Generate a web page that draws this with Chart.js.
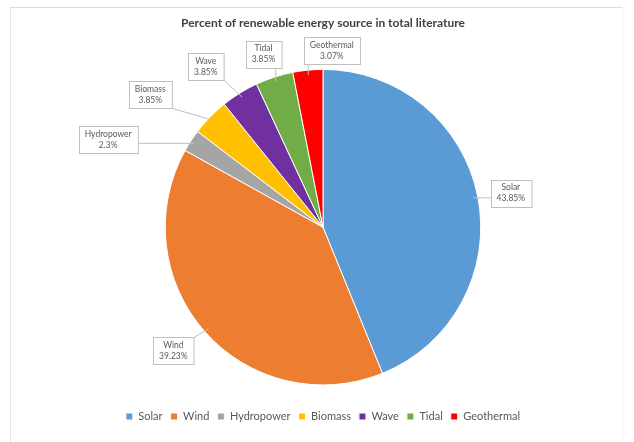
<!DOCTYPE html>
<html>
<head>
<meta charset="utf-8">
<script src="https://cdn.jsdelivr.net/npm/chart.js@4.4.0/dist/chart.umd.min.js"></script>
<style>
  html, body { margin: 0; padding: 0; background: #fff; }
  #wrap { position: relative; width: 634px; height: 442px; overflow: hidden; }
  #frame { position: absolute; left: 10px; top: 7px; width: 611px; height: 440px;
           border-top: 1px solid #dcdcdc; border-left: 1px solid #e4e4e4; border-right: 1px solid #f2f2f2; }
  #chart { position: absolute; left: 0; top: 0; }
</style>
</head>
<body>
<div id="wrap">
  <div id="frame"></div>
  <canvas id="chart" width="634" height="442"></canvas>
</div>
<script>
const sources = ['Solar', 'Wind', 'Hydropower', 'Biomass', 'Wave', 'Tidal', 'Geothermal'];
const percents = [43.85, 39.23, 2.3, 3.85, 3.85, 3.85, 3.07];
const percentLabels = ['43.85%', '39.23%', '2.3%', '3.85%', '3.85%', '3.85%', '3.07%'];
const sliceColors = ['#5B9BD5', '#ED7D31', '#A5A5A5', '#FFC000', '#7030A0', '#70AD47', '#FF0000'];

// where each callout box sits: distance as a factor of the radius, and angle shift in degrees
const calloutDist = [1.21, 1.23, 1.47, 1.38, 1.26, 1.16, 1.12];
const calloutShift = [0.8, 2, -11.1, -6.8, -4.3, -1, 8.4];

const fontName = 'Lato, "Open Sans", sans-serif';

const calloutPlugin = {
    id: 'callouts',
    afterDatasetsDraw(chart) {
        const ctx = chart.ctx;
        const meta = chart.getDatasetMeta(0);
        ctx.save();
        ctx.font = '8.5px ' + fontName;
        meta.data.forEach((arc, i) => {
            const p = arc.getProps(['x', 'y', 'startAngle', 'endAngle', 'outerRadius'], true);
            const mid = (p.startAngle + p.endAngle) / 2;
            const ang = mid + calloutShift[i] * Math.PI / 180;
            const cx = p.x + Math.cos(ang) * p.outerRadius * calloutDist[i];
            const cy = p.y + Math.sin(ang) * p.outerRadius * calloutDist[i];
            const lines = [sources[i], percentLabels[i]];
            const w = Math.max(...lines.map(t => ctx.measureText(t).width)) + 12;
            const h = 27;
            const x0 = Math.round(cx - w / 2) + 0.5, y0 = Math.round(cy - h / 2) + 0.5;
            // leader line
            const ax = p.x + Math.cos(mid) * p.outerRadius * 0.97;
            const ay = p.y + Math.sin(mid) * p.outerRadius * 0.97;
            const lx = Math.min(Math.max(ax, x0), x0 + w);
            const ly = Math.min(Math.max(ay, y0), y0 + h);
            ctx.strokeStyle = '#bfbfbf';
            ctx.lineWidth = 1;
            ctx.beginPath();
            ctx.moveTo(lx, ly);
            ctx.lineTo(ax, ay);
            ctx.stroke();
            ctx.fillStyle = '#ffffff';
            ctx.fillRect(x0, y0, w, h);
            ctx.strokeRect(x0, y0, w, h);
            ctx.fillStyle = '#595959';
            ctx.textAlign = 'center';
            ctx.textBaseline = 'middle';
            ctx.fillText(lines[0], cx, cy - 5.5);
            ctx.fillText(lines[1], cx, cy + 5.5);
        });
        ctx.restore();
    }
};

new Chart(document.getElementById('chart'), {
    type: 'pie',
    data: {
        labels: sources,
        datasets: [{
            data: percents,
            backgroundColor: sliceColors,
            borderColor: '#ffffff',
            borderWidth: 1,
            radius: '90%'
        }]
    },
    options: {
        responsive: false,
        animation: false,
        layout: { padding: { left: 12, right: 0, top: 0, bottom: 10 } },
        plugins: {
            title: {
                display: true,
                text: 'Percent of renewable energy source in total literature',
                color: '#404040',
                font: { family: fontName, size: 12, weight: 'bold' },
                padding: { top: 16, bottom: 21 }
            },
            legend: {
                position: 'bottom',
                labels: {
                    color: '#595959',
                    font: { family: fontName, size: 11 },
                    boxWidth: 7,
                    boxHeight: 7,
                    padding: 8
                }
            },
            tooltip: { enabled: false }
        }
    },
    plugins: [calloutPlugin]
});
</script>
</body>
</html>
